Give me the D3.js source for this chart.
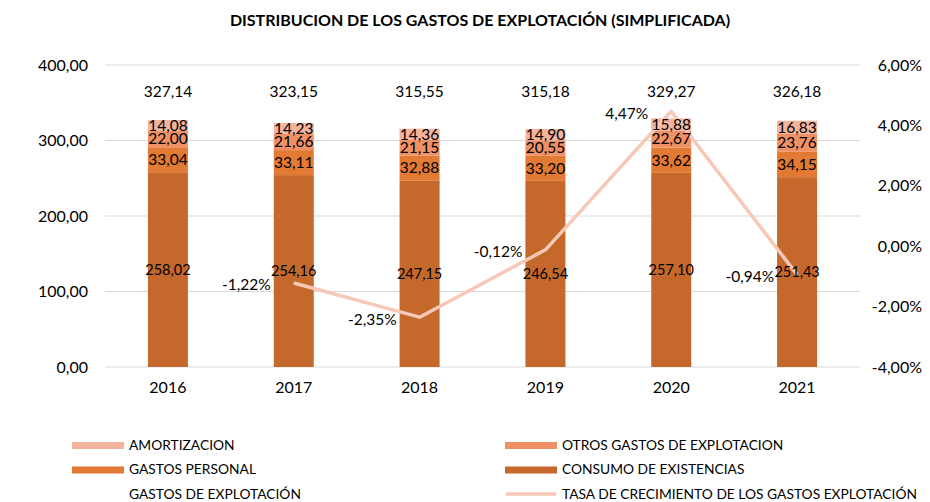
<!DOCTYPE html>
<html><head><meta charset="utf-8">
<script src="https://cdn.jsdelivr.net/npm/d3@7"></script>
<style>body{margin:0;background:#fff}svg{font-family:Lato,"Open Sans",sans-serif}</style>
</head><body><svg id="c" width="930" height="502"></svg>
<script>
const years = ["2016","2017","2018","2019","2020","2021"];
const consumo = [258.02,254.16,247.15,246.54,257.10,251.43];
const personal = [33.04,33.11,32.88,33.20,33.62,34.15];
const otros = [22.00,21.66,21.15,20.55,22.67,23.76];
const amort = [14.08,14.23,14.36,14.90,15.88,16.83];
const totals = [327.14,323.15,315.55,315.18,329.27,326.18];
const tasa = [null,-1.22,-2.35,-0.12,4.47,-0.94];
const leftTicks = [0,100,200,300,400];
const rightTicks = [-4,-2,0,2,4,6];

const seriesNames = ["CONSUMO DE EXISTENCIAS","GASTOS PERSONAL","OTROS GASTOS DE EXPLOTACION","AMORTIZACION"];
const seriesData = [consumo, personal, otros, amort];
const colors = ["#C5682C","#E27A33","#EF9065","#F4B39C"];
const lineColor = "#F7C8B7";

const svg = d3.select("#c");
const L = 105, R = 860, T = 65, B = 367;
const x = d3.scaleBand().domain(years).range([L,R]).paddingInner(0).paddingOuter(0);
const y = d3.scaleLinear().domain([0,400]).range([B,T]);
const y2 = d3.scaleLinear().domain([-4,6]).range([B,T]);
const fmt = v => v.toFixed(2).replace(".",",");
const barW = 40;
const cx = yr => x(yr)+x.bandwidth()/2;

svg.append("text").attr("x",480).attr("y",26).attr("text-anchor","middle")
  .attr("font-weight","bold").attr("font-size",16).text("DISTRIBUCION DE LOS GASTOS DE EXPLOTACIÓN (SIMPLIFICADA)");

// gridlines
svg.append("g").selectAll("line").data(leftTicks).join("line")
  .attr("x1",L).attr("x2",R).attr("y1",d=>y(d)).attr("y2",d=>y(d))
  .attr("stroke","#d9d9d9").attr("stroke-width",1);

// left axis labels
svg.append("g").selectAll("text").data(leftTicks).join("text")
  .attr("x",88).attr("y",d=>y(d)).attr("dy","0.35em").attr("text-anchor","end")
  .attr("font-size",16).text(d=>fmt(d));
// right axis labels
svg.append("g").selectAll("text").data(rightTicks).join("text")
  .attr("x",922).attr("y",d=>y2(d)).attr("dy","0.35em").attr("text-anchor","end")
  .attr("font-size",16).text(d=>fmt(d)+"%");
// x labels
svg.append("g").selectAll("text").data(years).join("text")
  .attr("x",d=>cx(d)).attr("y",393).attr("text-anchor","middle")
  .attr("font-size",16).text(d=>d);

// stacked bars
const stackRows = years.map((yr,i)=>{const o={year:yr}; seriesNames.forEach((n,k)=>o[n]=seriesData[k][i]); return o;});
const stacked = d3.stack().keys(seriesNames)(stackRows);
const gBars = svg.append("g");
stacked.forEach((s,k)=>{
  gBars.selectAll(null).data(s).join("rect")
    .attr("x",d=>cx(d.data.year)-barW/2)
    .attr("width",barW)
    .attr("y",d=>y(d[1])).attr("height",d=>y(d[0])-y(d[1]))
    .attr("fill",colors[k]);
});

// line
const pts = years.map((yr,i)=>({year:yr,v:tasa[i]})).filter(d=>d.v!==null);
svg.append("path").datum(pts)
  .attr("d",d3.line().x(d=>cx(d.year)).y(d=>y2(d.v)))
  .attr("fill","none").attr("stroke",lineColor).attr("stroke-width",3.5).attr("stroke-linejoin","round");

// segment labels
stacked.forEach((s,k)=>{
  svg.append("g").selectAll("text").data(s).join("text")
    .attr("x",d=>cx(d.data.year))
    .attr("y",d=>y((d[0]+d[1])/2)).attr("dy","0.35em").attr("text-anchor","middle")
    .attr("font-size",k===0?14.5:15.5).text(d=>fmt(d[1]-d[0]));
});

// line labels
svg.append("g").selectAll("text").data(pts).join("text")
  .attr("x",d=>cx(d.year)-23).attr("y",d=>y2(d.v)+2).attr("dy","0.35em")
  .attr("text-anchor","end").attr("font-size",15.5).text(d=>fmt(d.v)+"%");

// total labels
svg.append("g").selectAll("text").data(totals).join("text")
  .attr("x",(d,i)=>cx(years[i])).attr("y",y(365)).attr("dy","0.35em")
  .attr("text-anchor","middle").attr("font-size",15.5).text(d=>fmt(d));

// legend
const legend = [
  {name:"AMORTIZACION",color:colors[3],type:"bar",col:0,row:0},
  {name:"OTROS GASTOS DE EXPLOTACION",color:colors[2],type:"bar",col:1,row:0},
  {name:"GASTOS PERSONAL",color:colors[1],type:"bar",col:0,row:1},
  {name:"CONSUMO DE EXISTENCIAS",color:colors[0],type:"bar",col:1,row:1},
  {name:"GASTOS DE EXPLOTACIÓN",color:"none",type:"none",col:0,row:2},
  {name:"TASA DE CRECIMIENTO DE LOS GASTOS EXPLOTACIÓN",color:lineColor,type:"line",col:1,row:2}
];
const lg = svg.append("g").selectAll("g").data(legend).join("g")
  .attr("transform",d=>`translate(${d.col?505:72},${445+d.row*24.5})`);
lg.filter(d=>d.type==="bar").append("rect").attr("x",0).attr("y",-3).attr("width",52).attr("height",7).attr("fill",d=>d.color);
lg.filter(d=>d.type==="line").append("line").attr("x1",2).attr("x2",50).attr("y1",0).attr("y2",0)
  .attr("stroke",d=>d.color).attr("stroke-width",3.5).attr("stroke-linecap","round");
lg.append("text").attr("x",57).attr("y",0).attr("dy","0.35em").attr("font-size",13.8).text(d=>d.name);
</script></body></html>
